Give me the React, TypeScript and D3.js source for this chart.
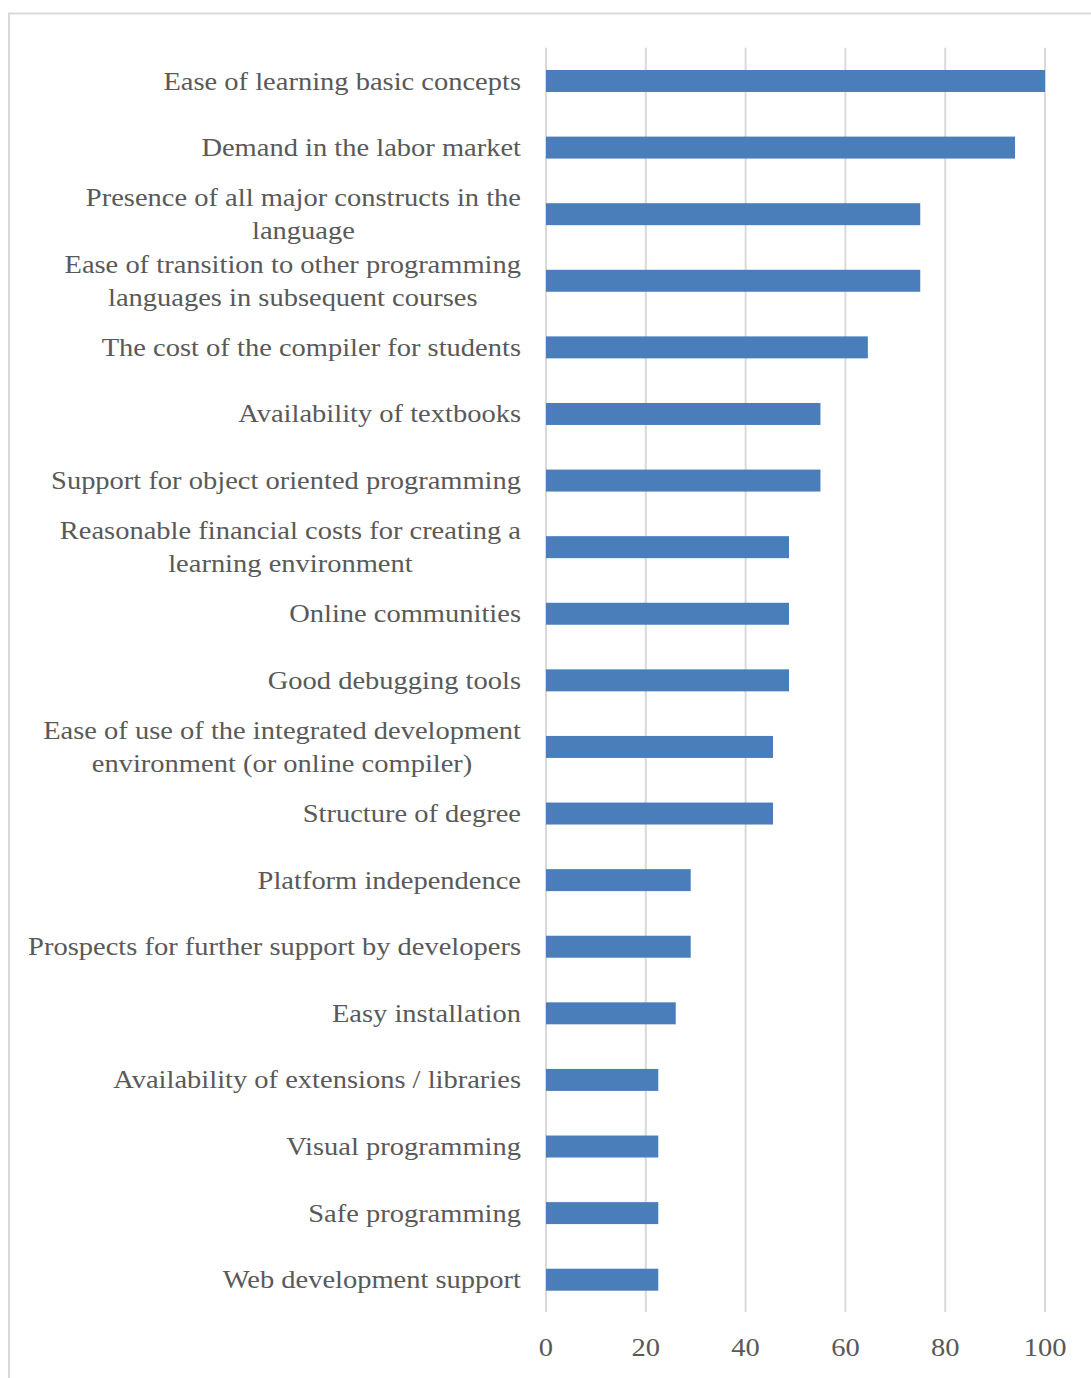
import React from "react";
import * as d3 from "d3";

const categories: string[] = [
  "Ease of learning basic concepts",
  "Demand in the labor market",
  "Presence of all major constructs in the\nlanguage",
  "Ease of transition  to other programming\nlanguages  in subsequent courses",
  "The cost of the compiler for students",
  "Availability of textbooks",
  "Support for object oriented programming",
  "Reasonable financial costs for creating a\nlearning environment",
  "Online communities",
  "Good debugging tools",
  "Ease of use of the integrated development\nenvironment (or online compiler)",
  "Structure of degree",
  "Platform independence",
  "Prospects for further support by developers",
  "Easy installation",
  "Availability of extensions / libraries",
  "Visual programming",
  "Safe programming",
  "Web development support",
];

const values: number[] = [100, 94, 75, 75, 64.5, 55, 55, 48.7, 48.7, 48.7, 45.5, 45.5, 29, 29, 26, 22.5, 22.5, 22.5, 22.5];

const xTicks: number[] = [0, 20, 40, 60, 80, 100];

export default function App() {
  const W = 1091;
  const H = 1378;
  const x = d3.scaleLinear().domain([0, 100]).range([546, 1045]);
  const y = d3.scaleBand<string>().domain(categories).range([47.7, 1313]).paddingInner(0.67).paddingOuter(0.335);
  const fontSize = 25;
  const sx = 1.14;
  const labelRight = 521;
  const lineH = 33;
  const textColor = "#595959";
  const font = "'Liberation Serif', 'Times New Roman', serif";

  return (
    <svg width={W} height={H} style={{ position: "absolute", left: 0, top: 0, background: "#fff" }}>
      <rect x={0} y={0} width={W} height={H} fill="#fff" />
      <rect x={9} y={13.5} width={W + 20} height={H - 5} fill="none" stroke="#d9d9d9" strokeWidth={2} />
      {xTicks.map((t) => (
        <line key={t} x1={x(t)} x2={x(t)} y1={47.7} y2={1312} stroke="#d9d9d9" strokeWidth={2} />
      ))}
      {categories.map((c, i) => (
        <rect
          key={c}
          x={x(0)}
          y={y(c)!}
          width={x(values[i]) - x(0)}
          height={y.bandwidth()}
          fill="#4a7ebb"
        />
      ))}
      {categories.map((c) => {
        const lines = c.split("\n");
        const cy = y(c)! + y.bandwidth() / 2;
        const n = lines.length;
        return (
          <g key={c} transform={`translate(${labelRight},${cy}) scale(${sx},1)`}>
            {n === 1 ? (
              <text x={0} y={0} dy="0.34em" textAnchor="end" fontFamily={font} fontSize={fontSize} fill={textColor}>
                {lines[0]}
              </text>
            ) : (
              <LabelBlock lines={lines} font={font} fontSize={fontSize} color={textColor} lineH={lineH} />
            )}
          </g>
        );
      })}
      {xTicks.map((t) => (
        <g key={t} transform={`translate(${x(t)},1347) scale(${sx},1)`}>
          <text x={0} y={0} dy="0.34em" textAnchor="middle" fontFamily={font} fontSize={fontSize} fill={textColor}>
            {t}
          </text>
        </g>
      ))}
    </svg>
  );
}

function LabelBlock({ lines, font, fontSize, color, lineH }: { lines: string[]; font: string; fontSize: number; color: string; lineH: number }) {
  const ref = React.useRef<SVGGElement>(null);
  const [shift, setShift] = React.useState(0);
  React.useLayoutEffect(() => {
    if (!ref.current) return;
    const texts = Array.from(ref.current.querySelectorAll("text")) as SVGTextElement[];
    const maxW = Math.max(...texts.map((t) => t.getComputedTextLength()));
    setShift(-maxW / 2);
  }, []);
  const n = lines.length;
  return (
    <g ref={ref} transform={`translate(${shift},0)`}>
      {lines.map((l, k) => (
        <text
          key={k}
          x={0}
          y={(k - (n - 1) / 2) * lineH}
          dy="0.34em"
          textAnchor="middle"
          fontFamily={font}
          fontSize={fontSize}
          fill={color}
        >
          {l}
        </text>
      ))}
    </g>
  );
}
